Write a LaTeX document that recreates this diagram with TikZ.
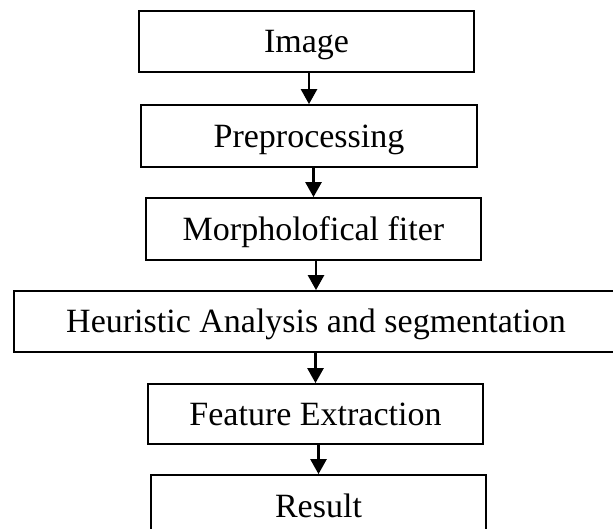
\documentclass[tikz,border=0pt]{standalone}
\usepackage{fontspec}
\setmainfont{Liberation Serif}
\usetikzlibrary{arrows.meta}

\tikzset{
  stage/.style={draw,line width=1.8pt,minimum height=61pt,inner sep=0pt,
    text height=30pt,text depth=7pt,font=\fontsize{34}{40}\selectfont},
  arr/.style={line width=2.6pt,-{Triangle[length=15pt,width=16pt]}}
}

\begin{document}
\begin{tikzpicture}[x=1pt,y=-1pt]
\useasboundingbox (0,0) rectangle (613,529);
\node[stage,minimum width=335pt] (img) at (306.5,41.5) {Image};
\node[stage,minimum width=336pt,minimum height=62pt] (pre) at (309,136) {Preprocessing};
\node[stage,minimum width=335pt,minimum height=62pt] (morph) at (313.5,229) {Morpholofical fiter};
\node[stage,minimum width=604pt] (heur) at (316,321.5) {Heuristic Analysis and segmentation};
\node[stage,minimum width=335pt,minimum height=60pt] (feat) at (315.5,414) {Feature Extraction};
\node[stage,minimum width=335pt] (res) at (318.5,505.5) {Result};
% connectors
\draw[arr] (pre.north |- img.south) -- (pre.north);
\draw[arr] (morph.north |- pre.south) -- (morph.north);
\draw[arr] (heur.north |- morph.south) -- (heur.north);
\draw[arr] (feat.north |- heur.south) -- (feat.north);
\draw[arr] (res.north |- feat.south) -- (res.north);
\end{tikzpicture}
\end{document}
